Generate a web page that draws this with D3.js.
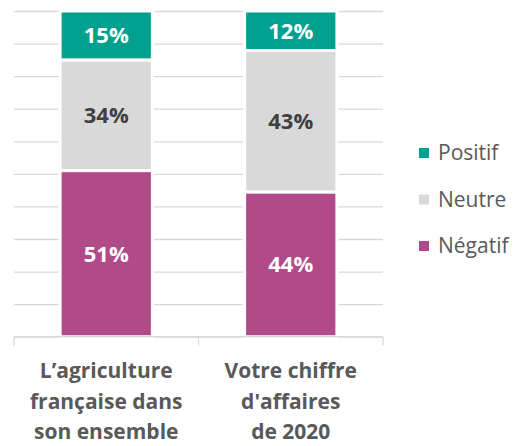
<!DOCTYPE html>
<html>
<head>
<meta charset="utf-8">
<script src="https://cdn.jsdelivr.net/npm/d3@7"></script>
<style>
  body { margin: 0; background: #fff; }
  svg { font-family: "Open Sans", Lato, sans-serif; }
  .grid line { stroke: #d9d9d9; stroke-width: 1.3; }
</style>
</head>
<body>
<svg id="chart" width="519" height="446"></svg>
<script>
//chart data
var categories = ["agri", "ca2020"];
var categoryLabels = [["L’agriculture", "française dans", "son ensemble"], ["Votre chiffre", "d'affaires", "de 2020"]];
var seriesNames = ["Négatif", "Neutre", "Positif"];
var negatif = [51, 44];
var neutre = [34, 43];
var positif = [15, 12];
var colors = ["#b14a89", "#d9d9d9", "#00a08e"];
var labelColors = ["#ffffff", "#404040", "#ffffff"];
var yTicks = [0, 0.1, 0.2, 0.3, 0.4, 0.5, 0.6, 0.7, 0.8, 0.9, 1];

var svg = d3.select("#chart");
var plot = {left: 14, right: 383, top: 11, bottom: 336.7};

//rows for the stack
var rows = categories.map(function(c, i) {
  return { cat: c, "Négatif": negatif[i], "Neutre": neutre[i], "Positif": positif[i] };
});
var stacked = d3.stack().keys(seriesNames).offset(d3.stackOffsetExpand)(rows);

var x = d3.scaleBand().domain(categories).range([plot.left, plot.right]).paddingInner(0.5).paddingOuter(0.25);
var y = d3.scaleLinear().domain([0, 1]).range([plot.bottom, plot.top]);

//gridlines
svg.append("g")
    .attr("class", "grid")
    .attr("transform", "translate(" + plot.left + ",0)")
    .call(d3.axisLeft(y).tickValues(yTicks).tickSize(-(plot.right - plot.left)).tickFormat(""))
    .call(function(g) { g.select(".domain").remove(); });

//bars
var series = svg.selectAll(".series")
    .data(stacked)
    .enter().append("g")
    .attr("class", "series");

series.selectAll("rect")
    .data(function(d) { return d.map(function(p) { p.key = d.key; return p; }); })
    .enter().append("rect")
    .attr("x", function(d) { return x(d.data.cat); })
    .attr("width", x.bandwidth())
    .attr("y", function(d) { return y(d[1]); })
    .attr("height", function(d) { return y(d[0]) - y(d[1]); })
    .attr("fill", function(d) { return colors[seriesNames.indexOf(d.key)]; })
    .attr("stroke", "#fff")
    .attr("stroke-width", 3);

//value labels
series.selectAll("text")
    .data(function(d) { return d.map(function(p) { p.key = d.key; return p; }); })
    .enter().append("text")
    .attr("x", function(d) { return x(d.data.cat) + x.bandwidth() / 2; })
    .attr("y", function(d) { return (y(d[0]) + y(d[1])) / 2; })
    .attr("dy", "0.36em")
    .attr("text-anchor", "middle")
    .attr("font-size", 22)
    .attr("font-weight", "bold")
    .attr("fill", function(d) { return labelColors[seriesNames.indexOf(d.key)]; })
    .text(function(d) { return d.data[d.key] + "%"; });

//category axis with tick marks between categories
var gap = (x.step() - x.bandwidth()) / 2;
var bounds = categories.map(function(c) { return x(c) - gap; }).concat([plot.right]);
var axis = svg.append("g").attr("class", "axis");
axis.append("line")
    .attr("x1", plot.left).attr("x2", plot.right)
    .attr("y1", plot.bottom).attr("y2", plot.bottom)
    .attr("stroke", "#d9d9d9").attr("stroke-width", 1.3);
axis.selectAll(".tick")
    .data(bounds)
    .enter().append("line")
    .attr("x1", function(d) { return d; }).attr("x2", function(d) { return d; })
    .attr("y1", plot.bottom).attr("y2", plot.bottom + 9)
    .attr("stroke", "#d9d9d9").attr("stroke-width", 1.3);

var catText = axis.selectAll(".cat")
    .data(categories)
    .enter().append("text")
    .attr("class", "cat")
    .attr("text-anchor", "middle")
    .attr("font-size", 21)
    .attr("font-weight", "bold")
    .attr("fill", "#595959");
catText.each(function(c, i) {
  var t = d3.select(this);
  categoryLabels[i].forEach(function(line, j) {
    t.append("tspan")
        .attr("x", x(c) + x.bandwidth() / 2)
        .attr("y", 378 + j * 30.5)
        .text(line);
  });
});

//legend, top item first
var legendOrder = seriesNames.slice().reverse();
var legend = svg.selectAll(".legend")
    .data(legendOrder)
    .enter().append("g")
    .attr("class", "legend")
    .attr("transform", function(d, i) { return "translate(419," + (160 + i * 46.5) + ")"; });
legend.append("rect")
    .attr("x", 0).attr("y", -12)
    .attr("width", 10).attr("height", 10)
    .attr("fill", function(d) { return colors[seriesNames.indexOf(d)]; });
legend.append("text")
    .attr("x", 19)
    .attr("y", 0)
    .attr("font-size", 21)
    .attr("fill", "#595959")
    .text(function(d) { return d; });
</script>
</body>
</html>
